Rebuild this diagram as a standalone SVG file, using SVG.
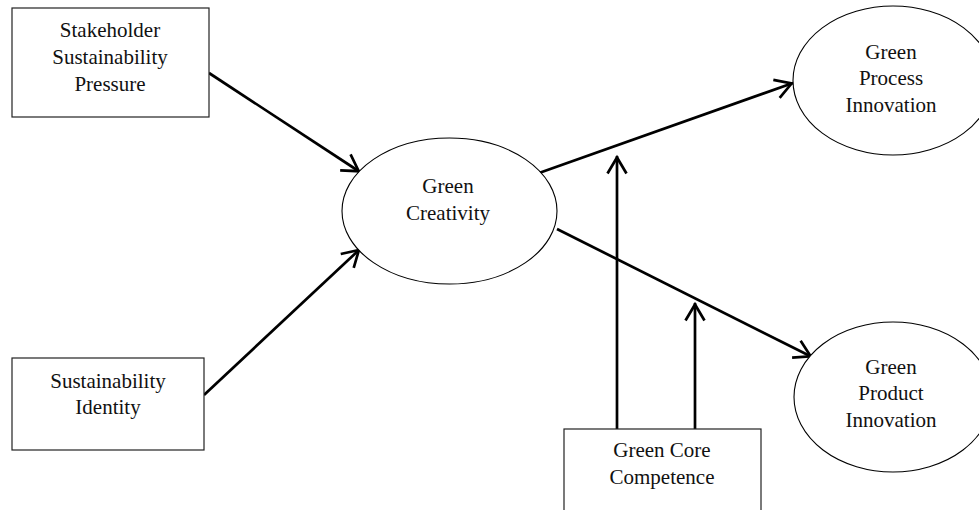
<svg xmlns="http://www.w3.org/2000/svg" width="979" height="510" viewBox="0 0 979 510">
<style>
  .box { fill: #ffffff; stroke: #222222; stroke-width: 1.2; }
  .ell { fill: #ffffff; stroke: #000000; stroke-width: 1.1; }
  .lbl { font-family: "Liberation Serif", "Times New Roman", serif; font-size: 21px; fill: #111111; text-anchor: middle; }
  .conn { stroke: #000000; stroke-width: 2.7; fill: none; marker-end: url(#arr); }
</style>
<defs>
  <marker id="arr" markerUnits="userSpaceOnUse" orient="auto" refX="1.5" refY="0" markerWidth="40" markerHeight="40" viewBox="-20 -20 40 40" overflow="visible">
    <path d="M-16,-9.5 L0,0 L-16,9.5" fill="none" stroke="#000000" stroke-width="2.7" stroke-linejoin="miter"/>
  </marker>
</defs>
<rect width="979" height="510" fill="#ffffff"/>

<g id="connectors">
  <line class="conn" x1="209" y1="73" x2="360" y2="172"/>
  <line class="conn" x1="204" y1="395" x2="360" y2="249"/>
  <line class="conn" x1="539" y1="173" x2="793" y2="83"/>
  <line class="conn" x1="557" y1="229" x2="812" y2="357"/>
  <line class="conn" x1="617" y1="429" x2="617" y2="156"/>
  <line class="conn" x1="695" y1="429" x2="695" y2="303"/>
</g>

<g id="stakeholder-sustainability-pressure">
  <rect class="box" x="12" y="8" width="197" height="109"/>
  <text class="lbl" x="110" y="37">Stakeholder</text>
  <text class="lbl" x="110" y="64">Sustainability</text>
  <text class="lbl" x="110" y="91">Pressure</text>
</g>

<g id="sustainability-identity">
  <rect class="box" x="12" y="358" width="192" height="92"/>
  <text class="lbl" x="108" y="388">Sustainability</text>
  <text class="lbl" x="108" y="414">Identity</text>
</g>

<g id="green-creativity">
  <ellipse class="ell" cx="449.5" cy="211" rx="107.5" ry="73"/>
  <text class="lbl" x="448" y="193">Green</text>
  <text class="lbl" x="448" y="220">Creativity</text>
</g>

<g id="green-process-innovation">
  <ellipse class="ell" cx="893" cy="80.5" rx="100" ry="74.5"/>
  <text class="lbl" x="891" y="59">Green</text>
  <text class="lbl" x="891" y="85">Process</text>
  <text class="lbl" x="891" y="112">Innovation</text>
</g>

<g id="green-product-innovation">
  <ellipse class="ell" cx="893" cy="397" rx="99" ry="75"/>
  <text class="lbl" x="891" y="374">Green</text>
  <text class="lbl" x="891" y="400">Product</text>
  <text class="lbl" x="891" y="427">Innovation</text>
</g>

<g id="green-core-competence">
  <rect class="box" x="564" y="429" width="197" height="100"/>
  <text class="lbl" x="662" y="457">Green Core</text>
  <text class="lbl" x="662" y="484">Competence</text>
</g>
</svg>
